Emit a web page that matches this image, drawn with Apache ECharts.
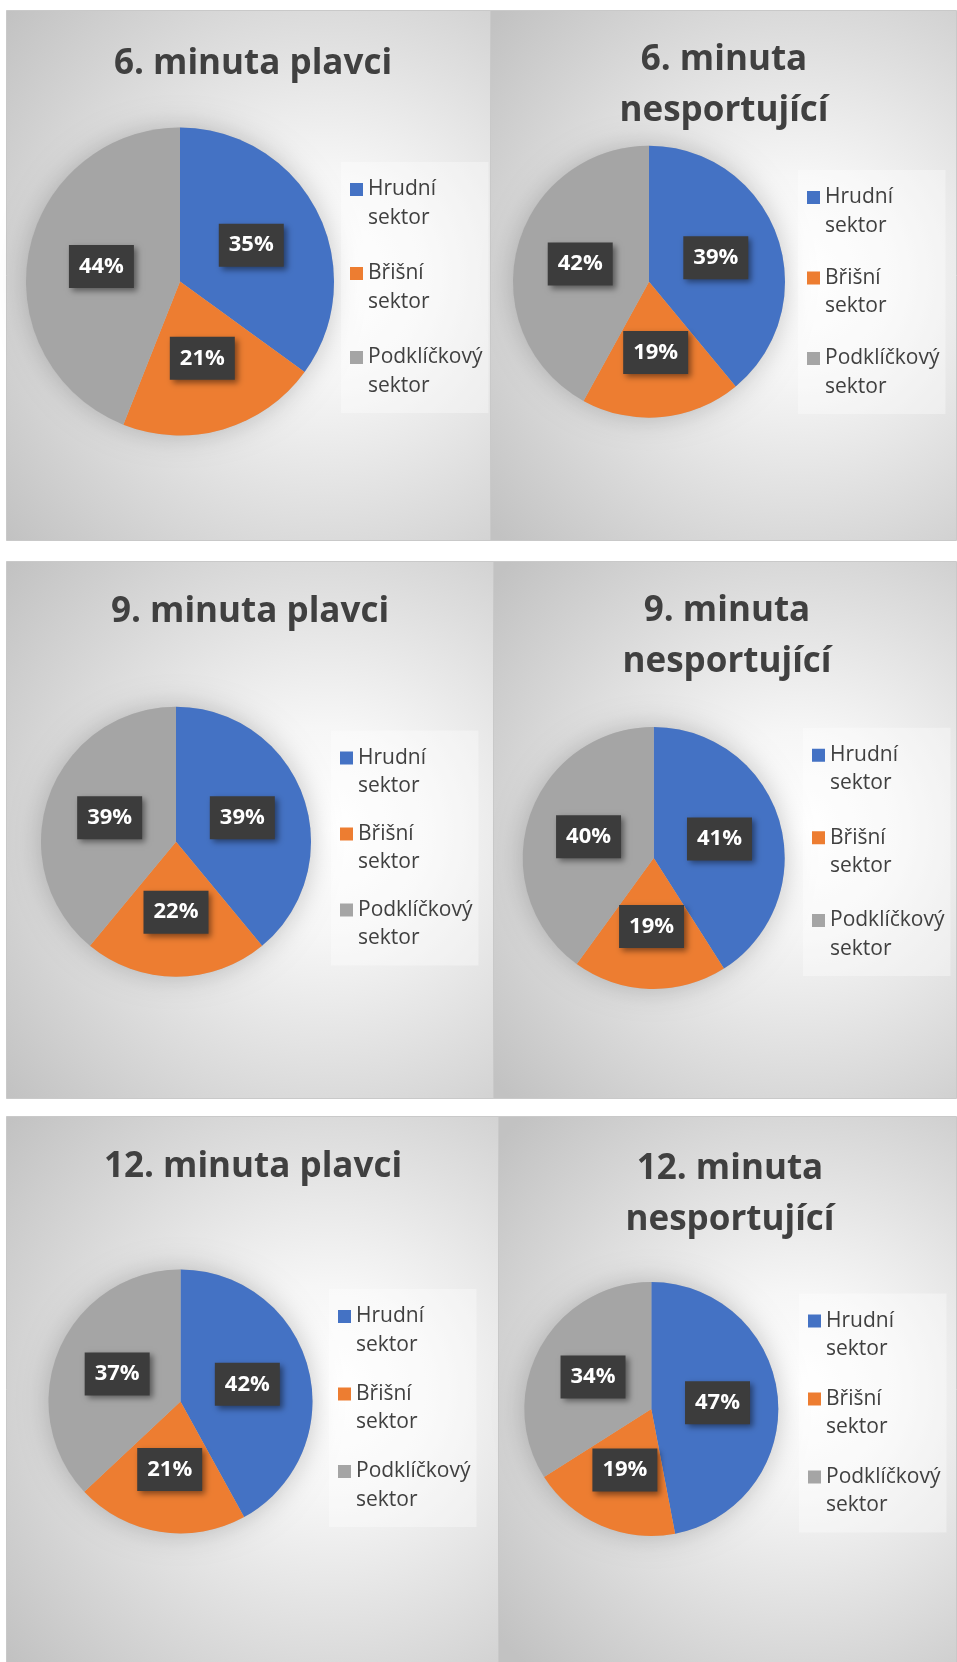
<!DOCTYPE html>
<html><head><meta charset="utf-8">
<script src="https://cdn.jsdelivr.net/npm/echarts@6/dist/echarts.min.js"></script>
<style>html,body{margin:0;padding:0;background:#fff}#c{width:957px;height:1662px}</style>
</head><body><div id="c"></div>
<script>
// ---- data ----
const categories = ['Hrudní sektor', 'Břišní sektor', 'Podklíčkový sektor'];
const chartTitles = ['6. minuta plavci', '6. minuta\nnesportující', '9. minuta plavci', '9. minuta\nnesportující', '12. minuta plavci', '12. minuta\nnesportující'];
const values6Plavci = [35, 21, 44];
const values6Nesport = [39, 19, 42];
const values9Plavci = [39, 22, 39];
const values9Nesport = [41, 19, 40];
const values12Plavci = [42, 21, 37];
const values12Nesport = [47, 19, 34];
const allValues = [values6Plavci, values6Nesport, values9Plavci, values9Nesport, values12Plavci, values12Nesport];
const colors = ['#4472C4', '#ED7D31', '#A5A5A5'];

// ---- layout (positions only) ----
const panels = [
  {x: 6,   y: 10,   w: 484, h: 530, cx: 180,   cy: 281.5, r: 154, tx: 253, ty: 39,   lx: 341, ly: 162,   gap: 27},
  {x: 490, y: 10,   w: 466, h: 530, cx: 649,   cy: 281.7, r: 136, tx: 724, ty: 35,   lx: 798, ly: 170,   gap: 23.5},
  {x: 6,   y: 561,  w: 487, h: 537, cx: 176,   cy: 841.7, r: 135, tx: 250, ty: 587,  lx: 331, ly: 730.5, gap: 19},
  {x: 493, y: 561,  w: 463, h: 537, cx: 653.7, cy: 858,   r: 131, tx: 727, ty: 586,  lx: 803, ly: 727.7, gap: 25.6},
  {x: 6,   y: 1116, w: 492, h: 546, cx: 180.5, cy: 1401.4,r: 132, tx: 253, ty: 1142, lx: 329, ly: 1289,  gap: 20.5},
  {x: 498, y: 1116, w: 458, h: 546, cx: 651.3, cy: 1409,  r: 127, tx: 730, ty: 1144, lx: 799, ly: 1293.6,gap: 21}
];

const chart = echarts.init(document.getElementById('c'), null, {renderer: 'canvas'});

const graphics = panels.map(p => ({
  type: 'rect', z: -10, silent: true,
  shape: {x: p.x + 0.5, y: p.y + 0.5, width: p.w, height: p.h},
  style: {
    fill: new echarts.graphic.RadialGradient(0.66, 0.5, 0.85, [
      {offset: 0, color: '#ffffff'},
      {offset: 0.25, color: '#f6f6f6'},
      {offset: 1, color: '#c2c2c2'}
    ]),
    stroke: '#c9c9c9', lineWidth: 1
  }
}));

const titles = panels.map((p, i) => ({
  text: chartTitles[i], left: p.tx, top: p.ty, padding: 0,
  textAlign: 'center', textVerticalAlign: 'top',
  textStyle: {fontFamily: 'Open Sans', fontWeight: 'bold', fontSize: 35, lineHeight: 51, color: '#404040'}
}));

const legends = panels.map(p => ({
  orient: 'vertical', left: p.lx, top: p.ly,
  data: categories, selectedMode: false,
  icon: 'path://M0 0H13V13H0Z M0 41H13V41.02H0Z',
  itemWidth: 13, itemHeight: 41, itemGap: p.gap,
  padding: [13, 6, 13, 9],
  backgroundColor: 'rgba(255,255,255,0.35)',
  formatter: n => n.replace(' ', '\n'),
  textStyle: {fontFamily: 'Open Sans', fontSize: 21, lineHeight: 28.5, color: '#404040'}
}));

const series = [];
panels.forEach((p, i) => {
  series.push({
    type: 'pie', silent: true, z: 1, center: [p.cx, p.cy], radius: p.r,
    startAngle: 90, label: {show: false}, labelLine: {show: false},
    data: [{name: '_shadow', value: 1}],
    itemStyle: {color: '#bdbdbd', shadowBlur: 28, shadowColor: 'rgba(0,0,0,0.22)'},
    animation: false
  });
  series.push({
    type: 'pie', z: 2, center: [p.cx, p.cy], radius: p.r,
    startAngle: 90, clockwise: true, animation: false,
    emphasis: {disabled: true},
    data: categories.map((c, k) => ({name: c, value: allValues[i][k], itemStyle: {color: colors[k]}})),
    label: {
      show: true, position: 'inside',
      formatter: q => q.value + '%',
      color: '#ffffff', fontFamily: 'Open Sans', fontWeight: 'bold', fontSize: 22, lineHeight: 26,
      backgroundColor: '#3c3c3c', padding: [9, 10, 8, 10],
      shadowColor: 'rgba(0,0,0,0.45)', shadowBlur: 6, shadowOffsetX: 3, shadowOffsetY: 3
    },
    labelLine: {show: false}
  });
});

chart.setOption({
  animation: false,
  backgroundColor: '#ffffff',
  graphic: graphics,
  title: titles,
  legend: legends,
  series: series
});
</script>
</body></html>
